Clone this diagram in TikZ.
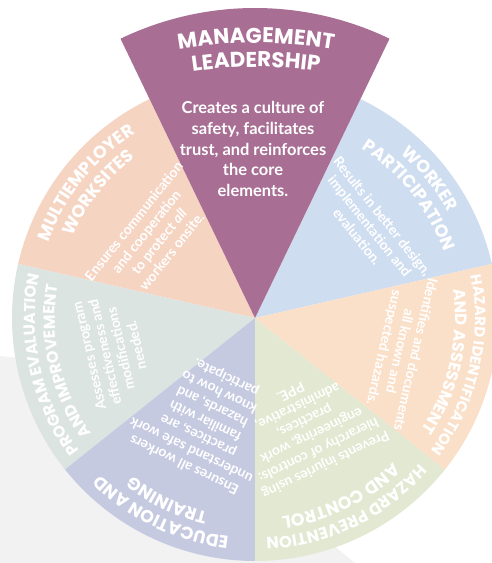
\documentclass[tikz,border=0pt]{standalone}
\usepackage{fontspec}
\setmainfont{Lato}
\newfontfamily\titlef{Poppins}
\usetikzlibrary{decorations.text}
\definecolor{cPurple}{RGB}{168,110,148}
\definecolor{cWorker}{RGB}{207,221,240}
\definecolor{cHid}{RGB}{251,224,201}
\definecolor{cPrev}{RGB}{226,232,209}
\definecolor{cEdu}{RGB}{198,202,225}
\definecolor{cProg}{RGB}{220,228,225}
\definecolor{cMulti}{RGB}{246,212,194}
\definecolor{cBg}{RGB}{242,242,242}
\newcommand\wheeltitle[4]{% mid angle, radius, font size, text
  \path[decorate, decoration={text along path, text align=center,
    text={|\titlef\bfseries\fontsize{#3}{#3}\selectfont\color{white}|#4}}]
    ([shift={(#1+40:#2)}]C) arc[start angle=#1+40, end angle=#1-40, radius=#2];}
\newcommand\pieslice[4]{% colour, start, end, radius
  \fill[#1] (C) -- ([shift={(#2:#4)}]C) arc[start angle=#2, end angle=#3, radius=#4] -- cycle;}
\tikzset{
  bodytext/.style={text=white, align=center, inner sep=0pt,
    font=\bfseries\fontsize{14}{16.2}\selectfont},
  leadtext/.style={text=white, align=center, inner sep=0pt,
    font=\bfseries\fontsize{16.5}{20.6}\selectfont}
}
\begin{document}
\begin{tikzpicture}[x=1bp,y=1bp]
\useasboundingbox (0,0) rectangle (492,563);
\clip (0,0) rectangle (492,563);
\fill[cBg] (0,207) -- (140,191) -- (333,18) -- (355,0) -- (0,0) -- cycle;
\coordinate (C) at (255,245);
\pieslice{cWorker}{12.8571}{64.2857}{243}
\pieslice{cMulti}{115.7143}{167.1429}{243}
\pieslice{cProg}{167.1429}{218.5714}{243}
\pieslice{cEdu}{218.5714}{270}{243}
\pieslice{cPrev}{270}{321.4286}{243}
\pieslice{cHid}{321.4286}{372.8571}{243}
\pieslice{cPurple}{64.2857}{115.7143}{310}
% purple title
\coordinate (P0) at (256,70);
\path[decorate, decoration={text along path, text align=center,
    text={|\titlef\bfseries\fontsize{21.5}{21.5}\selectfont\color{white}|MANAGEMENT}}]
    ([shift={(110:450)}]P0) arc[start angle=110, end angle=70, radius=450];
\path[decorate, decoration={text along path, text align=center,
    text={|\titlef\bfseries\fontsize{21.5}{21.5}\selectfont\color{white}|LEADERSHIP}}]
    ([shift={(110:426)}]P0) arc[start angle=110, end angle=70, radius=426];
\node[leadtext] (lead) at (253,414) {Creates a culture of\\safety, facilitates\\trust, and reinforces\\the core\\elements.};
% segment titles
\wheeltitle{38.5714}{220}{17.5}{WORKER}
\wheeltitle{38.5714}{200}{17.5}{PARTICIPATION}
\wheeltitle{347.1429}{220}{15}{HAZARD IDENTIFICATION}
\wheeltitle{347.1429}{200}{16.5}{AND ASSESSMENT}
\wheeltitle{295.7143}{220}{16.5}{HAZARD PREVENTION}
\wheeltitle{295.7143}{200}{17.5}{AND CONTROL}
\wheeltitle{244.2857}{220}{17.5}{EDUCATION AND}
\wheeltitle{244.2857}{200}{17.5}{TRAINING}
\wheeltitle{192.8571}{220}{16}{PROGRAM EVALUATION}
\wheeltitle{192.8571}{200}{16}{AND IMPROVEMENT}
\wheeltitle{141.4286}{220}{17.5}{MULTIEMPLOYER}
\wheeltitle{141.4286}{200}{17.5}{WORKSITES}
% segment bodies
\node[bodytext, rotate=-51.4286] (worker) at ([shift={(38.5714:147)}]C) {Results in better design,\\implementation and\\evaluation.};
\node[bodytext, rotate=257.1429] (hid) at ([shift={(347.1429:148)}]C) {Identifies and documents\\all known and\\suspected hazards.};
\node[bodytext, rotate=205.7143] (prev) at ([shift={(295.7143:123)}]C) {Prevents injuries using\\hierarchy of controls:\\engineering, work\\practices,\\administrative,\\PPE.};
\node[bodytext, rotate=154.2857] (edu) at ([shift={(244.2857:114)}]C) {Ensures all workers\\understand safe work\\practices, are\\familiar with\\hazards, and\\know how to\\participate.};
\node[bodytext, rotate=102.8571] (prog) at ([shift={(192.8571:146)}]C) {Assesses program\\effectiveness and\\modifications\\needed.};
\node[bodytext, rotate=51.4286] (multi) at ([shift={(141.4286:131)}]C) {Ensures communication\\and cooperation\\to protect \textit{all}\\workers onsite.};
\end{tikzpicture}
\end{document}
